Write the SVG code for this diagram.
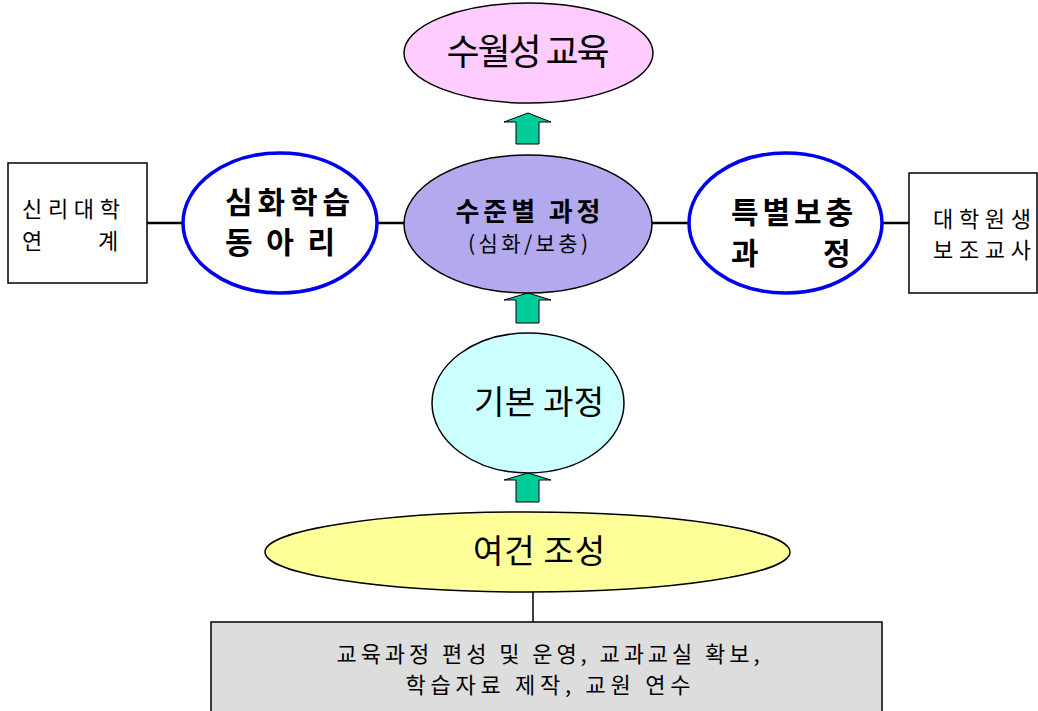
<svg xmlns="http://www.w3.org/2000/svg" width="1038" height="711" viewBox="0 0 1038 711">
<style>
text{font-family:"Noto Sans CJK KR","Noto Sans",sans-serif;fill:#000}
.ell{stroke:#000;stroke-width:1.5}
.blue{fill:#fff;stroke:#0000ee;stroke-width:3.5}
.box{fill:#fff;stroke:#000;stroke-width:1.5}
.ln{stroke:#000;stroke-width:2.5;fill:none}
.arr{fill:#00cc99;stroke:#000;stroke-width:1}
</style>
<rect width="1038" height="711" fill="#fff"/>
<g id="connectors">
<line class="ln" x1="147" y1="223" x2="183" y2="223"/>
<line class="ln" x1="377" y1="223" x2="405" y2="223"/>
<line class="ln" x1="651" y1="223" x2="689" y2="223"/>
<line class="ln" x1="882" y1="223" x2="909" y2="223"/>
<line stroke="#000" stroke-width="1.5" x1="533" y1="592" x2="533" y2="622"/>
<path class="arr" d="M528,113 L551,122 L539,122 L539,144 L516,144 L516,122 L504,122 Z"/>
<path class="arr" d="M528,293 L551,300 L539,300 L539,323 L516,323 L516,300 L504,300 Z"/>
<path class="arr" d="M528,473 L551,480 L539,480 L539,502 L516,502 L516,480 L504,480 Z"/>
</g>
<g id="excellence">
<ellipse class="ell" cx="528.5" cy="53" rx="124.5" ry="50" fill="#ffccff"/>
<text x="528" y="65" font-size="36" text-anchor="middle" textLength="163">수월성 교육</text>
</g>
<g id="level">
<ellipse class="ell" cx="528" cy="224" rx="124" ry="69" fill="#b3a9ee"/>
<text x="528" y="221" font-size="26" font-weight="bold" text-anchor="middle" textLength="145">수준별 과정</text>
<text x="528" y="251" font-size="21" text-anchor="middle" fill="#222" textLength="120">(심화/보충)</text>
</g>
<g id="club">
<ellipse class="blue" cx="280" cy="223" rx="97" ry="70"/>
<text x="225" y="213" font-size="30" font-weight="bold" textLength="125">심화학습</text>
<text x="225" y="253" font-size="30" font-weight="bold" textLength="110">동아리</text>
</g>
<g id="special">
<ellipse class="blue" cx="785.5" cy="223" rx="96.5" ry="70"/>
<text x="731" y="223" font-size="30" font-weight="bold" textLength="122">특별보충</text>
<text font-size="30" font-weight="bold" y="264"><tspan x="731">과</tspan><tspan x="823">정</tspan></text>
</g>
<g id="shilla">
<rect class="box" x="8" y="163" width="139" height="120"/>
<text x="22" y="217" font-size="22" textLength="98">신리대학</text>
<text font-size="22" y="249"><tspan x="22">연</tspan><tspan x="98">계</tspan></text>
</g>
<g id="gradstudent">
<rect class="box" x="909" y="173" width="128" height="120"/>
<text x="933" y="227" font-size="22" textLength="98">대학원생</text>
<text x="933" y="258" font-size="22" textLength="98">보조교사</text>
</g>
<g id="basic">
<ellipse class="ell" cx="528" cy="403" rx="96" ry="70" fill="#ccffff"/>
<text x="474" y="414" font-size="33" textLength="130">기본 과정</text>
</g>
<g id="condition">
<ellipse class="ell" cx="527.5" cy="552" rx="262.5" ry="40" fill="#ffff99"/>
<text x="539" y="563" font-size="33" text-anchor="middle" textLength="132">여건 조성</text>
</g>
<g id="details">
<rect x="211" y="622" width="671" height="95" fill="#dddddd" stroke="#000" stroke-width="1.5"/>
<text x="548" y="662" font-size="22" text-anchor="middle" fill="#222" textLength="423">교육과정 편성 및 운영, 교과교실 확보,</text>
<text x="548" y="693" font-size="22" text-anchor="middle" fill="#222" textLength="285">학습자료 제작, 교원 연수</text>
</g>
</svg>
